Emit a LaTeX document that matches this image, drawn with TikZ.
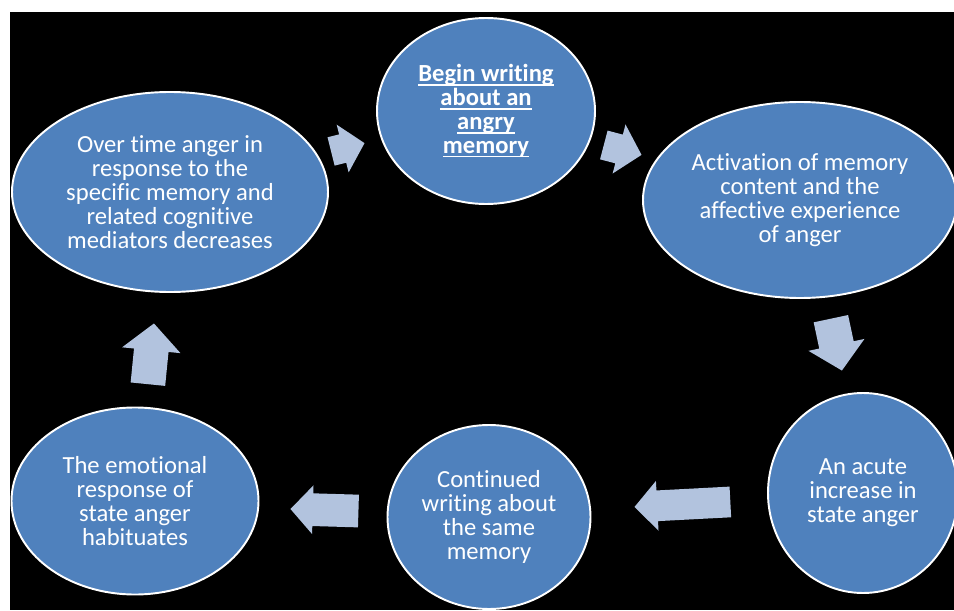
\documentclass[tikz,border=0pt]{standalone}
\usepackage{fontspec}
\setmainfont[Ligatures=CommonOff]{Carlito}
\usepackage{xcolor}
\usetikzlibrary{shapes.geometric, shapes.arrows}
\definecolor{stageblue}{RGB}{79,129,189}
\definecolor{arrowblue}{RGB}{178,195,222}
\def\stagefont{\fontsize{14}{13.6}\selectfont}
\newsavebox\ulsave
\newcommand\uln[1]{\sbox\ulsave{#1}\rlap{\rule[-2.2pt]{\wd\ulsave}{1pt}}\usebox\ulsave}

\begin{document}
\begin{tikzpicture}[
    stage/.style={ellipse, fill=stageblue, draw=white, line width=1.1pt, inner sep=0pt, text=white, align=center, font=\stagefont},
    blockarrow/.style={single arrow, fill=arrowblue, inner xsep=0pt, single arrow tip angle=95, anchor=tip}]
    \useasboundingbox (0,0) rectangle (19.08,12.2);
    \fill[white] (0,0) rectangle (19.08,12.2);
    \fill[black] (0.2,0) rectangle (19.08,11.96);

    \node[stage, minimum width=6.32cm, minimum height=4.0cm] (over) at (3.40,8.36) {Over time anger in\\response to the\\specific memory and\\related cognitive\\mediators decreases};
    \node[stage, minimum width=4.36cm, minimum height=3.72cm, font=\stagefont\bfseries] (begin) at (9.72,9.98) {\uln{Begin writing}\\\uln{about an}\\\uln{angry}\\\uln{memory}};
    \node[stage, minimum width=6.28cm, minimum height=3.92cm] (activ) at (16.0,8.2) {Activation of memory\\content and the\\affective experience\\of anger};
    \node[stage, minimum width=3.80cm, minimum height=4.0cm] (acute) at (17.26,2.34) {An acute\\increase in\\state anger};
    \node[stage, minimum width=4.06cm, minimum height=3.68cm] (contin) at (9.78,1.86) {Continued\\writing about\\the same\\memory};
    \node[stage, minimum width=4.94cm, minimum height=3.74cm] (habit) at (2.70,2.18) {The emotional\\response of\\state anger\\habituates};

    \node[blockarrow, minimum height=0.69cm, inner ysep=0.285cm, single arrow head extend=0.20cm, rotate=14] (overbegin) at (7.30,9.34) {};
    \node[blockarrow, minimum height=0.78cm, inner ysep=0.29cm, single arrow head extend=0.21cm, rotate=-14.7] (beginactiv) at (12.84,9.10) {};
    \node[blockarrow, minimum height=1.06cm, inner ysep=0.345cm, single arrow head extend=0.22cm, rotate=-78] (activacute) at (16.84,4.78) {};
    \node[blockarrow, minimum height=1.92cm, inner ysep=0.30cm, single arrow head extend=0.19cm, rotate=183] (acutecontin) at (12.68,2.06) {};
    \node[blockarrow, minimum height=1.36cm, inner ysep=0.32cm, single arrow head extend=0.16cm, rotate=178.3] (continhabit) at (5.80,2.02) {};
    \node[blockarrow, minimum height=1.22cm, inner ysep=0.34cm, single arrow head extend=0.24cm, rotate=84.3] (habitover) at (3.08,5.74) {};
\end{tikzpicture}
\end{document}
